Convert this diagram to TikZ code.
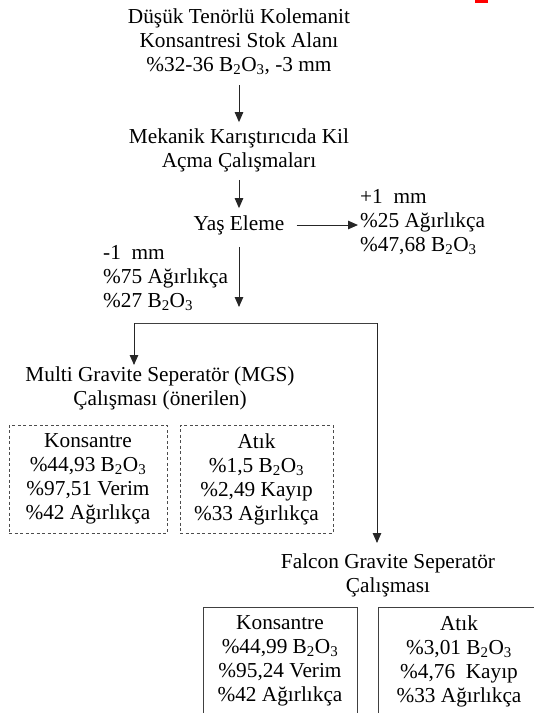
\documentclass[tikz,border=0pt]{standalone}
\usepackage{fontspec}
\setmainfont{Liberation Serif}
\usetikzlibrary{arrows.meta}
\newcommand\fsz{\fontsize{21.3}{24}\selectfont}
\newcommand\bo{B\textsubscript{2}O\textsubscript{3}}
\begin{document}
\begin{tikzpicture}[x=1pt,y=-1pt,
  txt/.style={font=\fsz, align=center, inner sep=0pt},
  ltxt/.style={font=\fsz, align=left, inner sep=0pt},
  arr/.style={-{Triangle[length=10pt,width=8.5pt]}, line width=1pt, draw=black!85},
  dbox/.style={draw=black!70, dash pattern=on 3pt off 2.5pt, line width=0.9pt, font=\fsz, align=center, inner sep=0pt},
  sbox/.style={draw=black!75, line width=1pt, font=\fsz, align=center, inner sep=0pt}]
\useasboundingbox (0,0) rectangle (534,713);
\clip (0,0) rectangle (534,713);
\fill[red] (475,0) rectangle (488,2.5);

\node[txt] (title) at (239,42) {Düşük Tenörlü Kolemanit\\Konsantresi Stok Alanı\\\%32-36 \bo, -3 mm};
\node[txt] (mek) at (239,150) {Mekanik Karıştırıcıda Kil\\Açma Çalışmaları};
\node[txt] (yas) at (239,225) {Yaş Eleme};
\node[ltxt, anchor=west] (plus) at (360,222) {+1\ \ mm\\\%25 Ağırlıkça\\\%47,68 \bo};
\node[ltxt, anchor=west] (minus) at (103,278) {-1\ \ mm\\\%75 Ağırlıkça\\\%27 \bo};
\node[txt] (mgs) at (160,388) {Multi Gravite Seperatör (MGS)\\Çalışması (önerilen)};
\node[dbox, minimum width=158, minimum height=108] (mk) at (88,479) {Konsantre\\\%44,93 \bo\\\%97,51 Verim\\\%42 Ağırlıkça};
\node[dbox, minimum width=153, minimum height=108] (ma) at (256.5,479) {Atık\\\%1,5 \bo\\\%2,49 Kayıp\\\%33 Ağırlıkça};
\node[txt] (fal) at (388,575) {Falcon Gravite Seperatör\\Çalışması};
\node[sbox, minimum width=154, minimum height=108] (fk) at (280,661) {Konsantre\\\%44,99 \bo\\\%95,24 Verim\\\%42 Ağırlıkça};
\node[sbox, minimum width=162, minimum height=108] (fa) at (459,661) {Atık\\\%3,01 \bo\\\%4,76\ \ Kayıp\\\%33 Ağırlıkça};

\coordinate (hl) at (134,323);
\coordinate (hr) at (377,323);

\draw[arr] ([yshift=-10pt]title.south) -- ([yshift=6pt]mek.north);
\draw[arr] ([yshift=-8pt]mek.south) -- ([yshift=7pt]yas.north);
\draw[arr] ([xshift=12pt]yas.east) -- ([xshift=-2pt]yas.east -| plus.west);
\draw[arr] ([yshift=-12pt]yas.south) -- (yas.south |- 0,307);
\draw[line width=1pt, draw=black!75] (hr) -- (hl);
\draw[arr] (hl) -- (hl |- 0,365);
\draw[arr] (hr) -- (hr |- 0,543);
\end{tikzpicture}
\end{document}
